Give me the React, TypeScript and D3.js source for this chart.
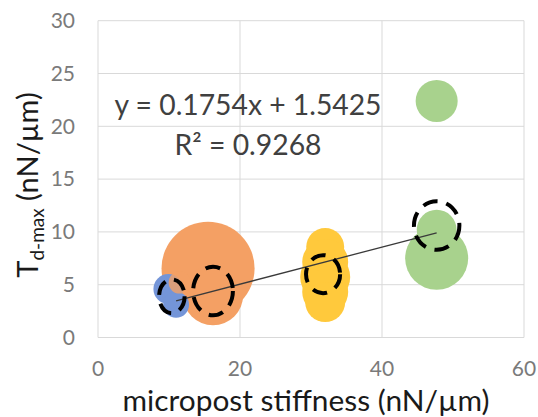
import * as d3 from 'd3'

const xTicks = [0, 20, 40, 60]
const yTicks = [0, 5, 10, 15, 20, 25, 30]

// bubbles, one set of arrays per series
const blueX = [9.9, 11.0]
const blueY = [4.6, 3.1]
const blueSize = [10, 7.6]

const orangeX = [15.5, 16.2, 11.5]
const orangeY = [6.55, 4.0, 5.2]
const orangeSize = [98, 41, 5.5]

const yellowX = [32, 32, 32, 32, 32]
const yellowY = [8.57, 7.15, 5.73, 4.31, 3.36]
const yellowSize = [16.3, 23.9, 28.3, 23.9, 18.1]

const greenX = [47.7, 47.7, 47.7]
const greenY = [7.5, 10.2, 22.4]
const greenSize = [45, 18, 20]

// dashed mean ellipses
const meanX = [10.4, 16.2, 31.7, 47.7]
const meanY = [3.9, 4.4, 6.0, 10.6]
const errX = [1.8, 2.8, 2.4, 3.2]
const errY = [1.6, 2.3, 1.8, 2.3]

// linear trendline
const trendX = [11, 47.7]
const slope = 0.1754
const intercept = 1.5425

const font = 'Lato, "Open Sans", sans-serif'

export default function App() {
  const x = d3.scaleLinear().domain([0, 60]).range([98, 524])
  const y = d3.scaleLinear().domain([0, 30]).range([337.5, 20.7])
  const r = d3.scaleSqrt().domain([0, 100]).range([0, 47])

  const series = [
    { xs: orangeX.slice(0, 2), ys: orangeY.slice(0, 2), ss: orangeSize.slice(0, 2), color: '#F4A064', op: 1 },
    { xs: blueX, ys: blueY, ss: blueSize, color: '#7495D8', op: 1 },
    { xs: orangeX.slice(2), ys: orangeY.slice(2), ss: orangeSize.slice(2), color: '#F4A064', op: 0.8 },
    { xs: yellowX, ys: yellowY, ss: yellowSize, color: '#FFC93C', op: 1 },
    { xs: greenX, ys: greenY, ss: greenSize, color: '#A8D28D', op: 1 },
  ]

  const line = d3.line<number>().x(d => x(d)).y(d => y(slope * d + intercept))

  return (
    <svg width={538} height={417} style={{ position: 'absolute', left: 0, top: 0, background: '#fff' }}>
      {/* grid */}
      {yTicks.map(t => (
        <line key={'gy' + t} x1={x(0)} x2={x(60)} y1={y(t)} y2={y(t)} stroke="#d9d9d9" strokeWidth={1} />
      ))}
      {xTicks.map(t => (
        <line key={'gx' + t} x1={x(t)} x2={x(t)} y1={y(0)} y2={y(30)} stroke="#d9d9d9" strokeWidth={1} />
      ))}

      {/* tick labels */}
      {yTicks.map(t => (
        <text key={'ly' + t} x={75} y={y(t)} dy="0.35em" textAnchor="end" fontFamily={font} fontSize={21} fill="#7a7a7a">
          {t}
        </text>
      ))}
      {xTicks.map(t => (
        <text key={'lx' + t} x={x(t)} y={369} dy="0.35em" textAnchor="middle" fontFamily={font} fontSize={21} fill="#7a7a7a">
          {t}
        </text>
      ))}

      {/* bubbles */}
      {series.map((s, i) =>
        s.xs.map((v, j) => (
          <circle key={'b' + i + '-' + j} cx={x(v)} cy={y(s.ys[j])} r={r(s.ss[j])} fill={s.color} opacity={s.op} />
        ))
      )}

      {/* trendline */}
      <path d={line(trendX) || ''} stroke="#3a3a3a" strokeWidth={1.3} fill="none" />

      {/* mean ellipses */}
      {meanX.map((v, i) => (
        <ellipse
          key={'m' + i}
          cx={x(v)}
          cy={y(meanY[i])}
          rx={x(errX[i]) - x(0)}
          ry={y(0) - y(errY[i])}
          fill="none"
          stroke="#000"
          strokeWidth={4}
          strokeDasharray="15 9"
        />
      ))}

      {/* equation */}
      <text x={248} y={115} textAnchor="middle" fontFamily={font} fontSize={28} fill="#404040" textLength={267} lengthAdjust="spacingAndGlyphs">
        y = 0.1754x + 1.5425
      </text>
      <text x={248} y={155} textAnchor="middle" fontFamily={font} fontSize={28} fill="#404040" textLength={147} lengthAdjust="spacingAndGlyphs">
        R² = 0.9268
      </text>

      {/* axis titles */}
      <text x={306} y={411} textAnchor="middle" fontFamily={font} fontSize={29} fill="#1a1a1a" textLength={367} lengthAdjust="spacingAndGlyphs">
        micropost stiffness (nN/µm)
      </text>
      <text transform="translate(38,185) rotate(-90)" textAnchor="middle" fontFamily={font} fontSize={29} fill="#1a1a1a">
        T<tspan fontSize={19} dy={6}>d-max</tspan>
        <tspan dy={-6}> (nN/µm)</tspan>
      </text>
    </svg>
  )
}
